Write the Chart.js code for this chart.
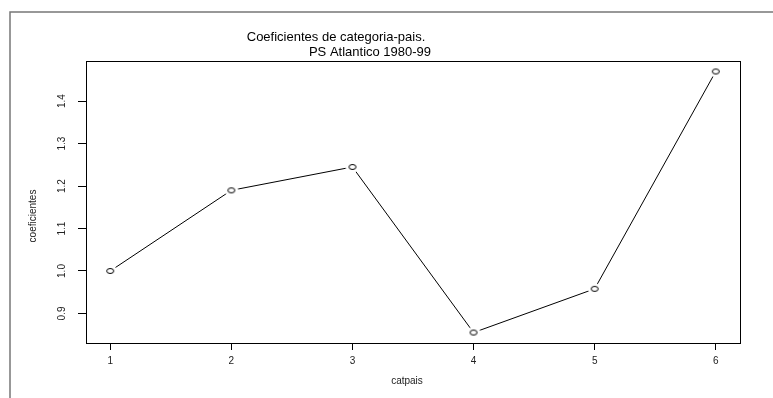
<!DOCTYPE html>
<html>
<head>
<meta charset="utf-8">
<script src="https://cdn.jsdelivr.net/npm/chart.js@4/dist/chart.umd.min.js"></script>
<style>
  html, body { margin: 0; padding: 0; background: #fff; overflow: hidden; }
</style>
</head>
<body>
<canvas id="c" width="773" height="398"></canvas>
<script>
// Coefficients by country category, PS Atlantico 1980-99
const categories = [1, 2, 3, 4, 5, 6];
const coeficientes = [1.0, 1.19, 1.245, 0.855, 0.958, 1.47];
const xTicks = [1, 2, 3, 4, 5, 6];
const yTicks = [0.9, 1.0, 1.1, 1.2, 1.3, 1.4];
const titleLines = ['Coeficientes de categoria-pais.', 'PS Atlantico 1980-99'];
const xLabel = 'catpais';
const yLabel = 'coeficientes';

const FONT = '"Liberation Sans", Arial, sans-serif';

// Axis limits padded by 4% of the data range on each side
function paddedRange(vals) {
  const lo = Math.min(...vals), hi = Math.max(...vals), d = (hi - lo) * 0.04;
  return [lo - d, hi + d];
}
const [xMin, xMax] = paddedRange(categories);
const [yMin, yMax] = paddedRange(coeficientes);

// Open circle marker with a white halo so the connecting line stops short of it
function makeMarker() {
  const cv = document.createElement('canvas');
  cv.width = 16; cv.height = 12;
  const g = cv.getContext('2d');
  g.fillStyle = '#fff';
  g.beginPath(); g.ellipse(8, 6, 7, 5.5, 0, 0, Math.PI * 2); g.fill();
  g.strokeStyle = '#000'; g.lineWidth = 1;
  g.beginPath(); g.ellipse(8, 6, 3.5, 2.5, 0, 0, Math.PI * 2); g.stroke();
  return cv;
}

const decorations = {
  id: 'decorations',
  afterDraw(chart) {
    const ctx = chart.ctx, a = chart.chartArea;
    ctx.save();
    // outer figure frame (left and top edges)
    ctx.strokeStyle = '#777'; ctx.lineWidth = 1.5;
    ctx.beginPath(); ctx.moveTo(10, 398); ctx.lineTo(10, 12); ctx.lineTo(773, 12); ctx.stroke();
    // plot box
    ctx.strokeStyle = '#000'; ctx.lineWidth = 1;
    ctx.strokeRect(Math.round(a.left) + 0.5, Math.round(a.top) + 0.5,
                   Math.round(a.right - a.left), Math.round(a.bottom - a.top));
    // rotated y tick labels
    const ys = chart.scales.y;
    ctx.fillStyle = '#222';
    ctx.font = '10px ' + FONT;
    ctx.textAlign = 'center'; ctx.textBaseline = 'alphabetic';
    yTicks.forEach(v => {
      const py = ys.getPixelForValue(v);
      ctx.save(); ctx.translate(65, py); ctx.rotate(-Math.PI / 2);
      ctx.fillText(v.toFixed(1), 0, 0);
      ctx.restore();
    });
    // axis titles
    ctx.textBaseline = 'middle';
    ctx.save(); ctx.translate(33, 216); ctx.rotate(-Math.PI / 2);
    ctx.fillText(yLabel, 0, 0);
    ctx.restore();
    ctx.fillText(xLabel, 407, 381);
    // two-line title
    ctx.textBaseline = 'alphabetic';
    ctx.fillStyle = '#000';
    ctx.font = '13px ' + FONT;
    ctx.fillText(titleLines[0], 336, 41);
    ctx.fillText(titleLines[1], 370, 56);
    ctx.restore();
  }
};

new Chart(document.getElementById('c'), {
  type: 'line',
  data: {
    datasets: [{
      data: categories.map((c, i) => ({ x: c, y: coeficientes[i] })),
      borderColor: '#000',
      borderWidth: 1,
      tension: 0,
      fill: false,
      pointStyle: makeMarker(),
      pointRadius: 4,
      pointHoverRadius: 4
    }]
  },
  options: {
    responsive: false,
    animation: false,
    events: [],
    layout: { padding: { top: 61, right: 33, left: 0, bottom: 0 } },
    plugins: { legend: { display: false }, tooltip: { enabled: false }, title: { display: false } },
    scales: {
      x: {
        type: 'linear', min: xMin, max: xMax,
        afterBuildTicks: s => { s.ticks = xTicks.map(v => ({ value: v })); },
        afterFit: s => { s.height = 55; },
        grid: { display: true, drawOnChartArea: false, tickLength: 7, tickColor: '#000', tickWidth: 1 },
        border: { display: false },
        ticks: { color: '#222', font: { family: FONT, size: 10 }, padding: 5, maxRotation: 0,
                 callback: v => String(v) },
        title: { display: false }
      },
      y: {
        type: 'linear', min: yMin, max: yMax,
        afterBuildTicks: s => { s.ticks = yTicks.map(v => ({ value: v })); },
        afterFit: s => { s.width = 86; },
        grid: { display: true, drawOnChartArea: false, tickLength: 8, tickColor: '#000', tickWidth: 1 },
        border: { display: false },
        ticks: { display: false },
        title: { display: false }
      }
    }
  },
  plugins: [decorations]
});
</script>
</body>
</html>
